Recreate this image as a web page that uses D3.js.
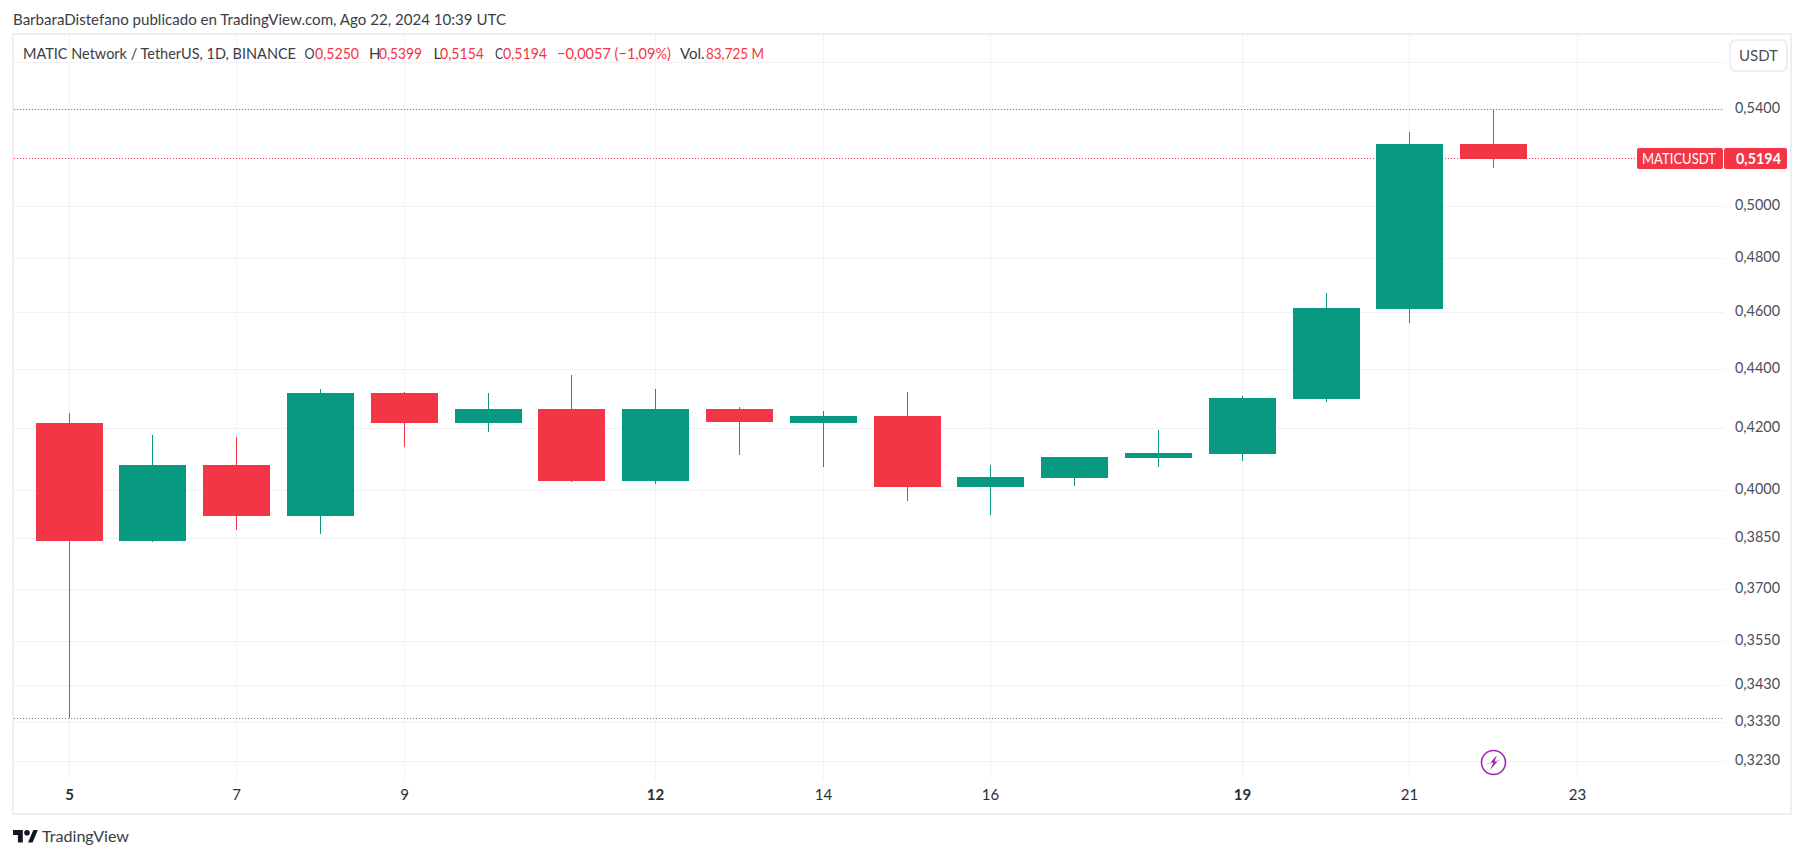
<!DOCTYPE html>
<html>
<head>
<meta charset="utf-8">
<script src="https://cdn.jsdelivr.net/npm/d3@7"></script>
<style>
  html, body { margin: 0; padding: 0; background: #fff; overflow: hidden; }
  svg { display: block; }
  text { font-family: Lato, "Noto Sans", sans-serif; }
</style>
</head>
<body>
<div id="chart"></div>
<script>
const days = [5, 6, 7, 8, 9, 10, 11, 12, 13, 14, 15, 16, 17, 18, 19, 20, 21, 22];
const opens = [0.4216, 0.3842, 0.4079, 0.3918, 0.4316, 0.4216, 0.4262, 0.4027, 0.4262, 0.4216, 0.4239, 0.4008, 0.4037, 0.4101, 0.4114, 0.4296, 0.4612, 0.5250];
const highs = [0.4249, 0.4176, 0.4169, 0.4330, 0.4320, 0.4316, 0.4378, 0.4330, 0.4269, 0.4256, 0.4320, 0.4079, 0.4104, 0.4192, 0.4306, 0.4670, 0.5301, 0.5399];
const lows = [0.3342, 0.3839, 0.3875, 0.3863, 0.4137, 0.4186, 0.4024, 0.4018, 0.4111, 0.4072, 0.3964, 0.3921, 0.4012, 0.4072, 0.4091, 0.4286, 0.4561, 0.5154];
const closes = [0.3842, 0.4079, 0.3918, 0.4316, 0.4216, 0.4262, 0.4027, 0.4262, 0.4219, 0.4239, 0.4008, 0.4040, 0.4104, 0.4117, 0.4299, 0.4615, 0.5250, 0.5191];

const priceTicks = [0.56, 0.54, 0.5, 0.48, 0.46, 0.44, 0.42, 0.4, 0.385, 0.37, 0.355, 0.343, 0.333, 0.323];
const dayTicks = [5, 7, 9, 12, 14, 16, 19, 21, 23];
const boldDays = [5, 12, 19];
const rangeLines = [0.5399, 0.3342];
const lastPrice = 0.5194;

const titleText = 'BarbaraDistefano publicado en TradingView.com, Ago 22, 2024 10:39 UTC';
const legendParts = [
  ['MATIC Network / TetherUS, 1D, BINANCE', 23, 273, 'dark'],
  ['O', 304.5, 10, 'dark'], ['0,5250', 315, 44, 'red'],
  ['H', 369, 0, 'dark'], ['0,5399', 379, 43, 'red'],
  ['L', 433.5, 0, 'dark'], ['0,5154', 440, 44, 'red'],
  ['C', 495, 8, 'dark'], ['0,5194', 503, 44, 'red'],
  ['−0,0057 (−1,09%)', 557, 114, 'red'],
  ['Vol.', 680, 0, 'dark'], ['83,725 M', 706, 58, 'red']
];

const GREEN = '#089981', RED = '#f23645', GRID = '#f2f2f6', FRAME = '#eeeef5', TEXT = '#3a3d46';
const width = 1804, height = 858;
const plotLeft = 14, plotRight = 1724, plotTop = 35, plotBottom = 779;

const svg = d3.select('#chart').append('svg').attr('width', width).attr('height', height);
svg.append('rect').attr('width', width).attr('height', height).attr('fill', '#fff');

const x = d3.scaleLinear().domain([5, 23]).range([69.1, 1577.5]);
const y = d3.scaleLog().domain([0.323, 0.5]).range([761.2, 206.3]);
const priceFormat = (d) => d3.format('.4f')(d).replace('.', ',');

// frame
svg.append('rect').attr('x', 13).attr('y', 34).attr('width', 1778).attr('height', 780)
  .attr('fill', 'none').attr('stroke', FRAME).attr('stroke-width', 2);

// vertical grid + day labels
const xAxis = svg.append('g').call(d3.axisBottom(x).tickValues(dayTicks).tickFormat((d) => d).tickSize(-(plotBottom - plotTop)).tickPadding(10));
xAxis.select('.domain').remove();
xAxis.selectAll('.tick').attr('transform', (d) => `translate(${Math.floor(x(d)) + 0.5},${plotBottom})`);
xAxis.selectAll('line').attr('stroke', GRID);
xAxis.selectAll('text').attr('fill', '#2a2e39').attr('font-size', 15).attr('font-family', 'Lato')
  .attr('font-weight', (d) => boldDays.includes(d) ? 700 : 400);

// horizontal grid + price labels
const yAxis = svg.append('g').call(d3.axisRight(y).tickValues(priceTicks).tickFormat((d) => d === 0.56 ? '' : priceFormat(d)).tickSize(-(plotRight - plotLeft)).tickPadding(11));
yAxis.select('.domain').remove();
yAxis.selectAll('.tick').attr('transform', (d) => `translate(${plotRight},${Math.round(y(d)) + 0.5})`);
yAxis.selectAll('line').attr('stroke', GRID);
yAxis.selectAll('text').attr('fill', '#4c4f58').attr('font-size', 15).attr('font-family', 'Lato').attr('dy', '0.26em')
  .filter((d) => d !== 0.56).attr('textLength', 45).attr('lengthAdjust', 'spacingAndGlyphs');

// high / low dotted lines
svg.append('g').selectAll('line').data(rangeLines).join('line')
  .attr('x1', plotLeft).attr('x2', plotRight)
  .attr('y1', (d) => Math.round(y(d)) + 0.5).attr('y2', (d) => Math.round(y(d)) + 0.5)
  .attr('stroke', '#787b86').attr('stroke-dasharray', '1 2');

// last price dotted line
svg.append('line').attr('x1', plotLeft).attr('x2', 1637)
  .attr('y1', Math.round(y(lastPrice)) + 0.5).attr('y2', Math.round(y(lastPrice)) + 0.5)
  .attr('stroke', RED).attr('stroke-dasharray', '1 2');

// candles
const candles = days.map((day, i) => ({ day, open: opens[i], high: highs[i], low: lows[i], close: closes[i] }));
const color = (d) => d.close >= d.open ? GREEN : RED;
const candle = svg.append('g').attr('shape-rendering', 'crispEdges').selectAll('g').data(candles).join('g');
candle.append('rect')
  .attr('x', (d) => Math.floor(x(d.day)))
  .attr('width', 1)
  .attr('y', (d) => Math.round(y(d.high)))
  .attr('height', (d) => Math.round(y(d.low)) - Math.round(y(d.high)))
  .attr('fill', color);
candle.append('rect')
  .attr('x', (d) => Math.floor(x(d.day)) - 33)
  .attr('width', 67)
  .attr('y', (d) => Math.round(y(Math.max(d.open, d.close))))
  .attr('height', (d) => Math.round(y(Math.min(d.open, d.close))) - Math.round(y(Math.max(d.open, d.close))))
  .attr('fill', color);

// title and legend
svg.append('text').attr('x', 13).attr('y', 24.5).attr('font-size', 15).attr('fill', TEXT)
  .attr('textLength', 493).attr('lengthAdjust', 'spacingAndGlyphs').text(titleText);
svg.append('g').selectAll('text').data(legendParts).join('text')
  .attr('x', (d) => d[1]).attr('y', 58.5).attr('font-size', 15)
  .attr('fill', (d) => d[3] === 'red' ? RED : TEXT)
  .each(function (d) {
    if (d[2]) d3.select(this).attr('textLength', d[2]).attr('lengthAdjust', 'spacingAndGlyphs');
  })
  .text((d) => d[0]);

// currency button
svg.append('rect').attr('x', 1730).attr('y', 40).attr('width', 57).attr('height', 31).attr('rx', 6)
  .attr('fill', '#fff').attr('stroke', '#eeeef5').attr('stroke-width', 2);
svg.append('text').attr('x', 1758.5).attr('y', 60.5).attr('text-anchor', 'middle').attr('font-size', 15).attr('fill', '#4c4f58').text('USDT');

// price tag
const tagY = Math.round(y(lastPrice)) - 10;
svg.append('rect').attr('x', 1637).attr('y', tagY).attr('width', 86).attr('height', 21).attr('rx', 2).attr('fill', RED);
svg.append('rect').attr('x', 1724).attr('y', tagY).attr('width', 63).attr('height', 21).attr('rx', 2).attr('fill', RED);
svg.append('text').attr('x', 1642).attr('y', tagY + 15.5).attr('font-size', 15).attr('font-weight', 400).attr('fill', '#fff')
  .attr('textLength', 74).attr('lengthAdjust', 'spacingAndGlyphs').text('MATICUSDT');
svg.append('text').attr('x', 1736).attr('y', tagY + 15.5).attr('font-size', 15).attr('font-weight', 700).attr('fill', '#fff')
  .attr('textLength', 45).attr('lengthAdjust', 'spacingAndGlyphs').text(priceFormat(lastPrice));

// lightning badge on the last bar
const badge = svg.append('g').attr('transform', `translate(${Math.floor(x(22)) + 0.5},762.5)`);
badge.append('circle').attr('r', 12).attr('fill', '#fff').attr('stroke', '#9c27b0').attr('stroke-width', 1.6);
badge.append('path').attr('d', 'M3.5,-7.5 L-3,0 L0,0 L-3.5,7.5 L4,-1 L1,-1 Z').attr('fill', '#9c27b0');
badge.append('line').attr('x1', -6.5).attr('y1', 1.5).attr('x2', 6.5).attr('y2', -2.5).attr('stroke', '#9c27b0').attr('stroke-opacity', 0.35);

// TradingView logo
const logo = svg.append('g').attr('transform', 'translate(13,830) scale(0.7)').attr('fill', '#131722');
logo.append('path').attr('d', 'M14 18H7V7H0V0h14v18zM28 18h-6.5L29 0h6.5L28 18z');
logo.append('circle').attr('cx', 20).attr('cy', 4).attr('r', 4);
svg.append('text').attr('x', 42).attr('y', 842).attr('font-size', 15.5).attr('fill', '#3a3d46')
  .attr('textLength', 87).attr('lengthAdjust', 'spacingAndGlyphs').text('TradingView');
</script>
</body>
</html>
